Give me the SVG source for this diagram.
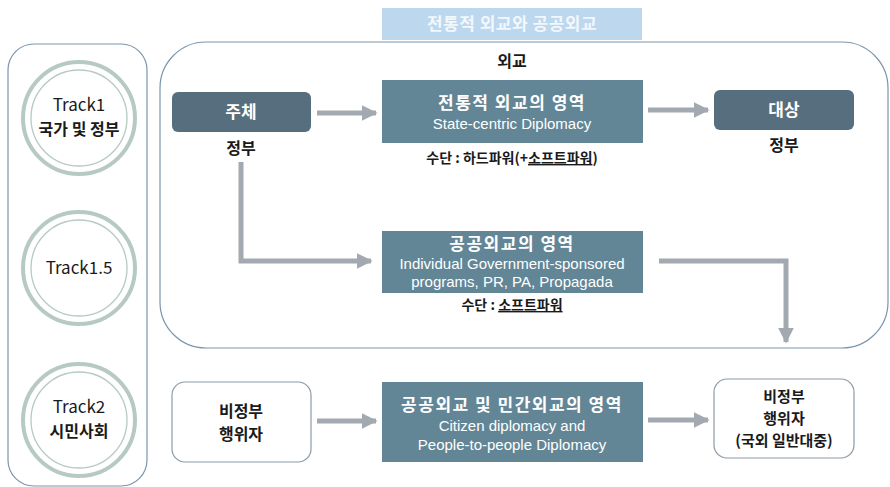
<svg xmlns="http://www.w3.org/2000/svg" width="890" height="487" viewBox="0 0 890 487">
<defs>
<style>
text{font-family:"Noto Sans CJK KR","Noto Sans",sans-serif;text-anchor:middle}
.b{font-weight:bold}
.blk{fill:#1a1a1a;font-size:14px;font-weight:bold}
.w{fill:#ffffff}
.en{font-family:"Liberation Sans",Arial,sans-serif;font-size:15px;fill:#ffffff}
.hd{fill:#ffffff;font-weight:bold;font-size:17px;letter-spacing:1.5px}
.dark{fill:#566e7e}
.teal{fill:#628696}
.wbox{fill:#ffffff;stroke:#8d9ba6;stroke-width:1.2}
.ring{fill:#ffffff;stroke:#b6cac3;stroke-width:4}
.ring2{fill:none;stroke:#b6cac3;stroke-width:1.3}
.conn{fill:none;stroke:#a3a9b0;stroke-width:5}
.trk{fill:#1a1a1a;font-size:17px}
.trkk{fill:#1a1a1a;font-size:16px;font-weight:bold}
</style>
<marker id="ah" viewBox="0 0 10 10" refX="9" refY="5" markerWidth="3.2" markerHeight="3.2" orient="auto" markerUnits="strokeWidth">
<path d="M0,0 L10,5 L0,10 z" fill="#a3a9b0"/>
</marker>
</defs>
<rect width="890" height="487" fill="#ffffff"/>

<g id="title">
<rect x="382" y="8" width="260" height="32" fill="#bdd7ee"/>
<text x="512" y="30" style="font-size:17px;fill:#f2f7fc;letter-spacing:0.5px" class="b">전통적 외교와 공공외교</text>
</g>

<g id="tracks-panel">
<rect x="8" y="44" width="139" height="442" rx="26" fill="none" stroke="#7a95ad" stroke-width="1.2"/>
</g>

<g id="track1">
<circle cx="79" cy="118" r="56" class="ring"/>
<circle cx="79" cy="118" r="48" class="ring2"/>
<text x="79" y="111" class="trk">Track1</text>
<text x="79" y="135" class="trkk">국가 및 정부</text>
</g>

<g id="track15">
<circle cx="79" cy="268" r="56" class="ring"/>
<circle cx="79" cy="268" r="48" class="ring2"/>
<text x="79" y="274" class="trk">Track1.5</text>
</g>

<g id="track2">
<circle cx="79" cy="420" r="56" class="ring"/>
<circle cx="79" cy="420" r="48" class="ring2"/>
<text x="79" y="413" class="trk">Track2</text>
<text x="79" y="437" class="trkk">시민사회</text>
</g>

<g id="diplomacy-frame">
<rect x="160" y="42" width="728" height="306" rx="46" fill="none" stroke="#7a95ad" stroke-width="1.2"/>
<text x="512" y="67" class="blk" style="font-size:16px">외교</text>
</g>

<g id="subject">
<rect x="172" y="92" width="139" height="40" rx="6" class="dark"/>
<text x="241" y="118" class="w b" style="font-size:17px">주체</text>
<text x="241" y="154" class="blk" style="font-size:16px">정부</text>
</g>

<g id="traditional">
<rect x="382" y="80" width="261" height="63" class="teal"/>
<text x="512" y="109" class="hd">전통적 외교의 영역</text>
<text x="512" y="129" class="en">State-centric Diplomacy</text>
<text x="512" y="163" class="blk" style="font-size:14px">수단 : 하드파워(+<tspan text-decoration="underline">소프트파워</tspan>)</text>
</g>

<g id="target">
<rect x="714" y="90" width="140" height="40" rx="6" class="dark"/>
<text x="784" y="116" class="w b" style="font-size:17px">대상</text>
<text x="784" y="151" class="blk" style="font-size:16px">정부</text>
</g>

<g id="public">
<rect x="382" y="231" width="261" height="62" class="teal"/>
<text x="512" y="250" class="hd">공공외교의 영역</text>
<text x="512" y="269" class="en">Individual Government-sponsored</text>
<text x="512" y="287" class="en">programs, PR, PA, Propagada</text>
<text x="512" y="310" class="blk" style="font-size:14px">수단 : <tspan text-decoration="underline">소프트파워</tspan></text>
</g>

<g id="ngo-actor">
<rect x="172" y="382" width="139" height="80" rx="13" class="wbox"/>
<text x="241" y="417" class="blk" style="font-size:16px">비정부</text>
<text x="241" y="440" class="blk" style="font-size:16px">행위자</text>
</g>

<g id="citizen">
<rect x="382" y="382" width="261" height="80" class="teal"/>
<text x="512" y="411" class="hd">공공외교 및 민간외교의 영역</text>
<text x="512" y="431" class="en">Citizen diplomacy and</text>
<text x="512" y="450" class="en">People-to-people Diplomacy</text>
</g>

<g id="foreign-public">
<rect x="714" y="379" width="140" height="79" rx="13" class="wbox"/>
<text x="784" y="402" class="blk" style="font-size:15px">비정부</text>
<text x="784" y="424" class="blk" style="font-size:15px">행위자</text>
<text x="784" y="446" class="blk" style="font-size:15px">(국외 일반대중)</text>
</g>

<g id="connectors">
<line x1="317" y1="113" x2="376" y2="113" class="conn" marker-end="url(#ah)"/>
<line x1="648" y1="110" x2="708" y2="110" class="conn" marker-end="url(#ah)"/>
<polyline points="241,162 241,261 371,261" class="conn" marker-end="url(#ah)"/>
<polyline points="659,261 786,261 786,342" class="conn" marker-end="url(#ah)"/>
<line x1="317" y1="421" x2="376" y2="421" class="conn" marker-end="url(#ah)"/>
<line x1="648" y1="420" x2="708" y2="420" class="conn" marker-end="url(#ah)"/>
</g>
</svg>
